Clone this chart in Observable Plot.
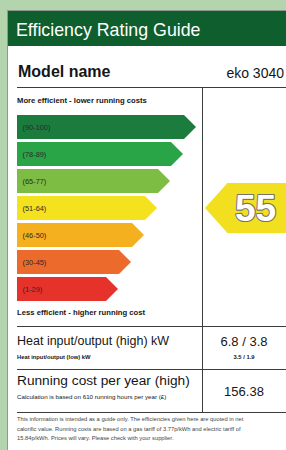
<!DOCTYPE html>
<html>
<head>
<meta charset="utf-8">
<script src="https://cdn.jsdelivr.net/npm/d3@7"></script>
<script src="https://cdn.jsdelivr.net/npm/@observablehq/plot@0.6"></script>
<style>
html,body{margin:0;padding:0;}
body{width:286px;height:450px;overflow:hidden;position:relative;background:#b4d4ae;font-family:"Liberation Sans",Arial,Helvetica,sans-serif;color:#161616;}
.abs{position:absolute;white-space:nowrap;}
#card{left:7px;top:10px;width:300px;height:460px;background:#fff;border-left:1px solid #8e9a8e;border-top:1px solid #8e9a8e;}
#head{left:8px;top:11px;width:300px;height:35px;background:#0f5e2e;}
.hl{position:absolute;height:1px;background:#3c3c3c;left:17px;width:290px;}
.vl{position:absolute;width:1px;background:#3c3c3c;}
#chart{position:absolute;left:0;top:0;}
</style>
</head>
<body>
<div id="card" class="abs"></div>
<div id="head" class="abs"></div>
<div id="layer"></div>
<div id="chart"></div>
<script>
// ---- data ----
const titleText = "Efficiency Rating Guide";
const modelLabel = "Model name";
const modelName = "eko 3040";
const topNote = "More efficient - lower running costs";
const bottomNote = "Less efficient - higher running cost";
const bandLabels = ["(90-100)", "(78-89)", "(65-77)", "(51-64)", "(46-50)", "(30-45)", "(1-29)"];
const bandLow = [90, 78, 65, 51, 46, 30, 1];
const bandHigh = [100, 89, 77, 64, 50, 45, 29];
const bandPalette = ["#1b7c3d", "#29a547", "#7dbd43", "#f3e21d", "#f5b01f", "#ec6a2b", "#e5322a"];
const rating = 55;
const ratingColor = "#f2df1f";
const heatLabels = ["Heat input/output (high) kW", "Heat input/output (low) kW"];
const heatValues = ["6.8 / 3.8", "3.5 / 1.9"];
const costLabels = ["Running cost per year (high)", "Calculation is based on 610 running hours per year (£)"];
const costValue = 156.38;
const footerLines = [
  "This information is intended as a guide only. The efficiencies given here are quoted in net",
  "calorific value. Running costs are based on a gas tariff of 3.77p/kWh and electric tariff of",
  "15.84p/kWh. Prices will vary. Please check with your supplier."
];

// ---- layout ----
const W = 286, H = 450;
const colX = 202;           // divider between left and right columns
const valueCX = 244;        // centre of right column values
const layer = document.getElementById("layer");
function txt(s, left, baseline, fs, opts = {}) {
  const d = document.createElement("div");
  d.className = "abs";
  d.textContent = s;
  d.style.fontSize = fs + "px";
  d.style.lineHeight = fs + "px";
  d.style.top = (baseline - 0.8465 * fs) + "px";
  if (opts.center) { d.style.left = (left - 200) + "px"; d.style.width = "400px"; d.style.textAlign = "center"; }
  else if (opts.right) { d.style.right = (W - left) + "px"; d.style.textAlign = "right"; }
  else d.style.left = left + "px";
  if (opts.weight) d.style.fontWeight = opts.weight;
  if (opts.color) d.style.color = opts.color;
  if (opts.ls) d.style.letterSpacing = opts.ls + "px";
  layer.appendChild(d);
  return d;
}
function hline(y) { const d = document.createElement("div"); d.className = "hl"; d.style.top = y + "px"; layer.appendChild(d); }
function vline(x, y0, y1) { const d = document.createElement("div"); d.className = "vl"; d.style.left = x + "px"; d.style.top = y0 + "px"; d.style.height = (y1 - y0) + "px"; layer.appendChild(d); }

txt(titleText, 16, 37.5, 17.8, {color: "#ffffff"});
txt(modelLabel, 18, 78, 16, {weight: "bold"});
txt(modelName, 284, 78, 14, {right: true});
hline(87);
vline(colX, 87, 412);
txt(topNote, 17, 104, 7.7, {weight: "bold"});
txt(bottomNote, 17, 316, 7.7, {weight: "bold"});
hline(326);
txt(heatLabels[0], 17, 346, 12.5);
txt(heatLabels[1], 17, 359.5, 5.8, {weight: "bold"});
txt(heatValues[0], valueCX, 346, 13, {center: true});
txt(heatValues[1], valueCX, 359.5, 5.8, {center: true, weight: "bold"});
hline(369);
txt(costLabels[0], 17, 386, 13.7);
txt(costLabels[1], 17, 399, 6.2);
txt(costValue.toFixed(2), valueCX, 396, 13, {center: true});
hline(412);
footerLines.forEach((s, i) => txt(s, 17, 422 + i * 9.4, 5.75, {color: "#444"}));

// ---- chart ----
const ranks = bandLabels.map((_, i) => bandLabels.length - i);
const ratingIdx = bandLow.findIndex((lo, i) => rating >= lo && rating <= bandHigh[i]);
const ratingBand = bandLabels[ratingIdx];

function arrowsMark(index, scales, values, dim) {
  const x = scales.x, y = scales.y, color = scales.color;
  const step = y(bandLabels[1]) - y(bandLabels[0]);
  const bw = y.bandwidth ? y.bandwidth() : step * 0.875;
  const g = d3.create("svg:g");
  const x0 = dim.marginLeft;
  bandLabels.forEach((b, i) => {
    const top = y(b), tip = x(ranks[i]), h = bw / 2;
    g.append("path")
      .attr("d", `M${x0},${top}H${tip - h}L${tip},${top + h}L${tip - h},${top + bw}H${x0}Z`)
      .attr("fill", color ? color(b) : bandPalette[i]);
  });
  // rating indicator in the right column
  const cy = y(ratingBand) + bw / 2, hh = bw * 1.04;
  const tipX = colX + 3, bodyX = tipX + hh * 0.9, right = dim.width;
  g.append("path")
    .attr("d", `M${tipX},${cy}L${bodyX},${cy - hh}H${right}V${cy + hh}H${bodyX}Z`)
    .attr("fill", ratingColor);
  return g.node();
}

const plot = Plot.plot({
  width: W,
  height: H,
  marginLeft: 17,
  marginRight: 0,
  marginTop: 113,
  marginBottom: H - 302,
  style: {background: "transparent", fontFamily: "'Liberation Sans', Arial, sans-serif", overflow: "visible"},
  x: {domain: [0, 7], range: [105, 196], axis: null},
  y: {type: "band", domain: bandLabels, paddingInner: 0.125, paddingOuter: 0, axis: null},
  color: {domain: bandLabels, range: bandPalette},
  marks: [
    Plot.dot(bandLabels, {y: d => d, fill: d => d, r: 0}),
    arrowsMark,
    Plot.text(bandLabels, {y: d => d, frameAnchor: "left", dx: 5, dy: 0.5, textAnchor: "start", fontSize: 7.4, fill: "#2b2b2b", text: d => d}),
    Plot.text([rating], {y: () => ratingBand, frameAnchor: "right", dx: -31, dy: 1, text: d => String(d), textAnchor: "middle",
      fontSize: 37, fontWeight: "bold", fill: "#ffffff", stroke: "#77756a", strokeWidth: 2.2, paintOrder: "stroke"})
  ]
});
plot.querySelectorAll("text").forEach(t => { if (t.textContent === String(rating)) t.setAttribute("paint-order", "stroke"); });
document.getElementById("chart").appendChild(plot);
</script>
</body>
</html>
